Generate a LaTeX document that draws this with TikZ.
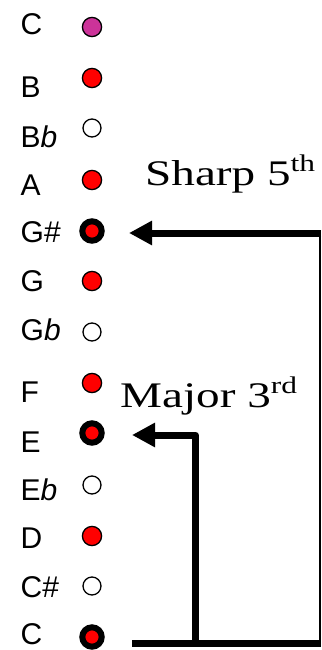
\documentclass[tikz,border=0pt]{standalone}
\usepackage{fontspec}
\setmainfont{Liberation Serif}
\newfontfamily\arialf{Liberation Sans}
\usetikzlibrary{arrows.meta}
\definecolor{topc}{RGB}{204,51,153}
\definecolor{notered}{RGB}{255,0,0}
\tikzset{
  lbl/.style={anchor=base west,inner sep=0pt,font=\arialf\fontsize{30}{36}\selectfont},
  reddot/.style={circle,draw=black,line width=1.3pt,fill=notered,minimum size=19.2pt,inner sep=0pt},
  topdot/.style={reddot,fill=topc},
  opendot/.style={circle,draw=black,line width=1.3pt,fill=white,minimum size=18pt,inner sep=0pt},
  rootdot/.style={circle,draw=black,line width=6pt,fill=notered,minimum size=19.4pt,inner sep=0pt},
  big/.style={anchor=base west,inner sep=0pt,font=\fontsize{36}{42}\selectfont},
  conn/.style={line width=7pt,line join=round},
  tip/.style={-{Triangle[length=23pt,width=23pt]}}
}
\newcommand{\supx}[1]{\raisebox{13.5pt}{\fontsize{24}{28}\selectfont #1}}
\begin{document}
\begin{tikzpicture}[x=1pt,y=-1pt]
\useasboundingbox (0,0) rectangle (321,650);
% labels
\node[lbl] (lC2) at (20.5,35) {C};
\node[lbl] (lB) at (20.5,98) {B};
\node[lbl] (lBb) at (20.5,147) {B\textit{b}};
\node[lbl] (lA) at (20.5,195) {A};
\node[lbl] (lGs) at (20.5,242) {G\#};
\node[lbl] (lG) at (20.5,291) {G};
\node[lbl] (lGb) at (20.5,340) {G\textit{b}};
\node[lbl] (lF) at (20.5,402) {F};
\node[lbl] (lE) at (20.5,452) {E};
\node[lbl] (lEb) at (20.5,500) {E\textit{b}};
\node[lbl] (lD) at (20.5,548) {D};
\node[lbl] (lCs) at (20.5,597) {C\#};
\node[lbl] (lC) at (20.5,644) {C};
% dots
\node[topdot] (dC2) at (92,27) {};
\node[reddot] (dB) at (92,78) {};
\node[opendot] (dBb) at (92,128) {};
\node[reddot] (dA) at (92,180) {};
\node[rootdot] (dGs) at (92,231) {};
\node[reddot] (dG) at (92,281) {};
\node[opendot] (dGb) at (92,332) {};
\node[reddot] (dF) at (92,383) {};
\node[rootdot] (dE) at (92,433) {};
\node[opendot] (dEb) at (92,485) {};
\node[reddot] (dD) at (92,536) {};
\node[opendot] (dCs) at (92,586) {};
\node[rootdot] (dC) at (92,637) {};
% texts
\node[big] (t5) at (145,185) {\scalebox{1.31}[1]{Sharp 5\supx{th}}};
\node[big] (t3) at (120,407) {\scalebox{1.31}[1]{Major 3\supx{rd}}};
% connectors
\coordinate (s5end) at (129,233);
\coordinate (s5r) at (320,233);
\coordinate (brr) at (320,643);
\coordinate (bl) at (132,643);
\coordinate (bm) at (195.5,643);
\coordinate (m3c) at (195.5,435);
\coordinate (m3end) at (132,435);
\coordinate (edge) at (321,643);
\coordinate (s5edge) at (321,233);
\draw[line width=1.5pt] (s5r) -- (brr);
\draw[conn,tip] (s5edge) -- (s5end);
\draw[conn] (bl) -- (edge);
\draw[conn,tip] (bm) -- (m3c) -- (m3end);
\end{tikzpicture}
\end{document}
